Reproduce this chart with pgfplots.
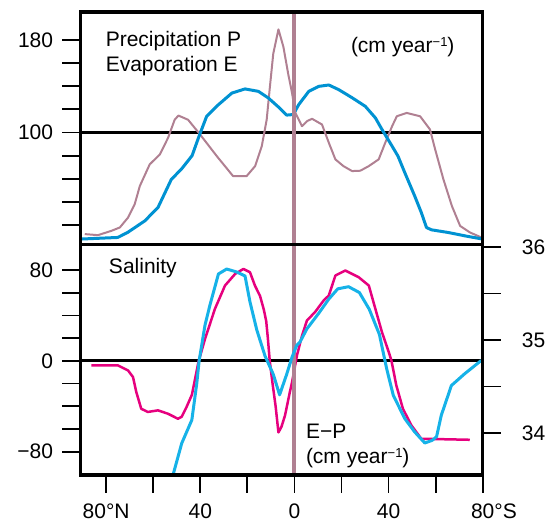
\documentclass[border=0pt]{standalone}
\usepackage{pgfplots}
\pgfplotsset{compat=1.18}
\usepackage{fontspec}
\setmainfont{Liberation Sans}
\definecolor{precip}{RGB}{176,128,146}
\definecolor{evap}{RGB}{0,146,210}
\definecolor{salin}{RGB}{22,178,232}
\definecolor{ep}{RGB}{230,0,126}
\newcommand{\bigf}{\fontsize{21}{25}\selectfont}
\begin{document}
\bigf
\begin{tikzpicture}
\path[use as bounding box] (-80.3pt,-49pt) rectangle (471.7pt,475pt);
\pgfplotsset{
  every axis/.append style={
    scale only axis, width=402.4pt,
    xmin=-91, xmax=80,
    axis line style={line width=3.5pt, line cap=rect},
    every tick/.style={line width=1.8pt, black},
    major tick length=18pt, minor tick length=18pt,
    tick align=outside,
    every tick label/.append style={font=\bigf},
  }
}
% ---------- top panel: P and E ----------
\begin{axis}[at={(0pt,230.7pt)}, anchor=south west, height=232.3pt,
  ymin=3.5, ymax=204,
  xtick=\empty,
  ytick={20,40,...,180}, yticklabels={,,,,100,,,,180},
  ytick pos=left,
  yticklabel style={anchor=east, inner sep=0pt, xshift=-9pt},
]
\addplot[black, line width=3pt] coordinates {(-91,100) (80,100)};
\addplot[precip, line width=2pt, line join=round] coordinates {
(-89.1,12.3) (-83.5,11.4) (-77.8,15.1) (-74.2,18) (-70.7,26.6) (-67.9,38) (-65.7,53.8)
(-61.5,72.5) (-57.2,81) (-53.7,95.4) (-50.9,111) (-49.3,114.6) (-45.2,111) (-40.1,98.3)
(-33.0,79.6) (-26.1,62.4) (-20.3,62.4) (-16.7,71) (-13.9,88) (-11.8,111) (-10.4,140)
(-9.0,168) (-6.8,189) (-4.7,174) (-2.6,150) (-1.1,135) (0.4,117) (3.2,105.4) (5.5,110)
(7.5,111.8) (11.7,106.9) (14.6,91.2) (17.4,76.8) (20.8,71) (24.5,66.7) (28,67) (31.6,71)
(35.8,76.8) (38.6,91.2) (41.5,105.4) (43.5,114) (47.7,116.9) (53.4,114) (57.6,102.6)
(59.8,85.4) (63.3,59.6) (66.9,36.6) (70.4,19.4) (74.6,13.7) (78.8,10) (80,9)};
\addplot[evap, line width=3pt, line join=round] coordinates {
(-91,8) (-75.1,9.4) (-70.9,13.7) (-63.6,23.7) (-58.0,35.2) (-52.3,59.6) (-48.1,68.2)
(-43.5,80) (-40.5,97) (-37.3,114) (-32.3,124) (-26.6,134) (-21.0,137.6) (-15.3,135.5)
(-11.1,129.8) (-6.8,122) (-3.3,115) (-0.5,115.5) (1.8,124) (6.1,135.5) (10.3,139.8)
(14.6,141) (18.8,137) (24.5,130) (30.1,122.6) (34.4,112.6) (37.2,102.6) (41.5,88.2)
(44.0,79.6) (46.9,65.3) (51.1,45.2) (53.9,31) (56.1,18) (58.2,16) (65.3,13.7) (72.4,10.8) (80,8)};
\addplot[precip, line width=4pt] coordinates {(0,3.5) (0,204)};
\end{axis}
% ---------- bottom panel: E-P ----------
\begin{axis}[at={(0pt,0pt)}, anchor=south west, height=230.7pt,
  ymin=-100.5, ymax=102.6,
  xtick={-80,-60,...,80}, xticklabels={80°N,,40,,0,,40,,80\rlap{°S}},
  xtick pos=bottom,
  xticklabel style={anchor=north, inner sep=0pt, yshift=-11pt},
  ytick={-80,-60,...,80}, yticklabels={−80,,,,0,,,,80},
  ytick pos=left,
  yticklabel style={anchor=east, inner sep=0pt, xshift=-9pt},
]
\addplot[black, line width=3pt] coordinates {(-91,0) (80,0)};
\addplot[ep, line width=2.5pt, line join=round] coordinates {
(-86.3,-4) (-75,-4) (-70.7,-8.5) (-68.6,-14.3) (-67.2,-27.5) (-65.1,-42.2) (-62.3,-45)
(-58.0,-43.6) (-53.7,-46.6) (-49.5,-51) (-47.9,-49.2) (-45.8,-40.4) (-43.6,-30) (-40.8,-1)
(-38.0,19.3) (-33.8,45.7) (-29.5,66.3) (-25.2,76.5) (-21.7,80.9) (-18.9,78) (-16.8,66.3)
(-14.6,57) (-13.0,45) (-12.0,35) (-11.3,20) (-10.5,0) (-9.3,-20) (-8.0,-40) (-6.8,-63)
(-5.5,-58) (-4.0,-48) (-1.9,-27) (-1.0,-18.7) (0.2,-5) (1.1,5) (3.2,22) (5.3,35.5) (8.7,42.8)
(12.4,53.1) (14.6,57.5) (17.4,75.1) (21.6,79.5) (27.3,73.6) (31.6,66.3) (34.4,45.7)
(37.2,25.2) (40.1,7.6) (41.2,0.3) (43.3,-21.6) (46.1,-42.2) (49.7,-56.8) (53.9,-68.6) (74.5,-69.5)};
\addplot[precip, line width=4pt] coordinates {(0,-100.5) (0,102.6)};
\end{axis}
% ---------- bottom panel: salinity ----------
\begin{axis}[at={(0pt,0pt)}, anchor=south west, height=230.7pt,
  ymin=33.548, ymax=36.029,
  axis x line=none, axis y line*=right,
  ytick={34,35,36}, yticklabels={34,35,36},
  minor ytick={34.5,35.5},
  yticklabel style={anchor=west, inner sep=0pt, xshift=21pt},
]
\addplot[salin, line width=3pt, line join=round] coordinates {
(-51.6,33.548) (-47.9,33.889) (-43.6,34.14) (-41.5,34.534) (-40.5,34.777) (-38.0,35.16)
(-35.9,35.376) (-32.3,35.71) (-28.8,35.763) (-24.5,35.731) (-21.0,35.688) (-18.9,35.41)
(-16.0,35.108) (-12.5,34.828) (-9.0,34.631) (-6.3,34.41) (-3.3,34.631) (-1.1,34.81)
(1.0,34.943) (2.4,34.98) (5.3,35.12) (10.2,35.283) (14.6,35.44) (18.4,35.55) (23.0,35.573)
(27.6,35.51) (31.8,35.33) (36.1,35.06) (39.2,34.69) (42.0,34.405) (46.9,34.154)
(51.1,34.011) (55.4,33.892) (58.5,33.92) (60.4,33.96) (62.4,34.19) (66.7,34.51)
(72.4,34.638) (79.4,34.78)};
\end{axis}
% frame
\draw[line width=3.5pt] (0pt,0pt) rectangle (402.4pt,463pt);
\draw[line width=3.5pt] (0pt,230.7pt) -- (402.4pt,230.7pt);
% texts
\node[anchor=base west, inner sep=0pt] at (25.3pt,428pt) {Precipitation P};
\node[anchor=base west, inner sep=0pt] at (25.3pt,403pt) {Evaporation E};
\node[anchor=base west, inner sep=0pt] at (270.5pt,422pt) {(cm year\raisebox{0.55ex}{\fontsize{13}{13}\selectfont −1})};
\node[anchor=base west, inner sep=0pt] at (28.5pt,201.5pt) {Salinity};
\node[anchor=base west, inner sep=0pt] at (225.5pt,36.5pt) {E−P};
\node[anchor=base west, inner sep=0pt] at (225.5pt,11pt) {(cm year\raisebox{0.55ex}{\fontsize{13}{13}\selectfont −1})};
\end{tikzpicture}
\end{document}
